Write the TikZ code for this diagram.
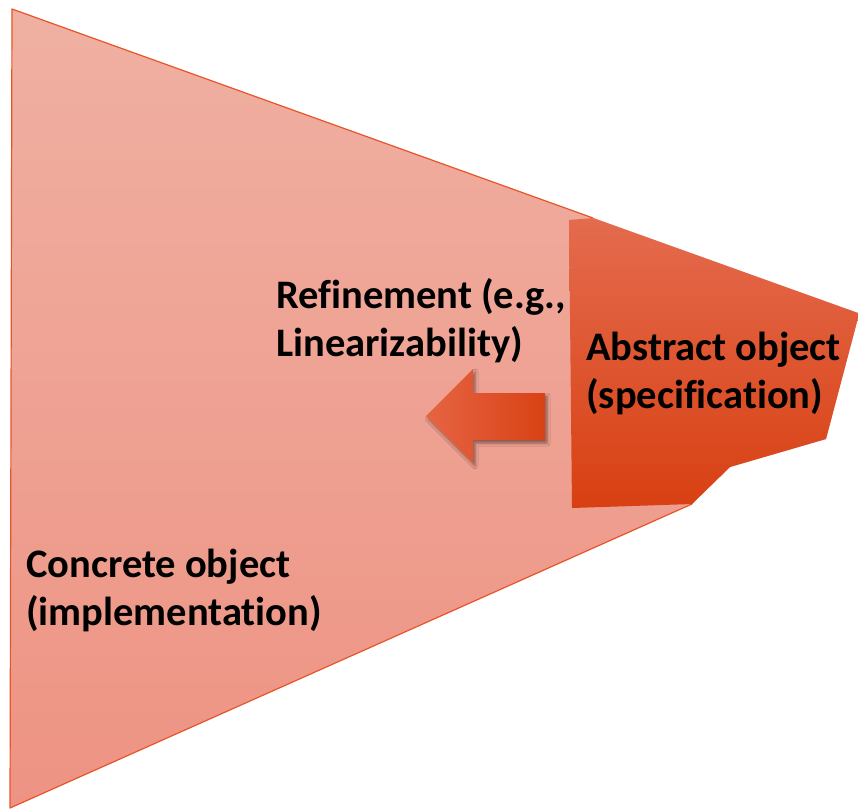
\documentclass[tikz,border=0pt]{standalone}
\usepackage{fontspec}
\setmainfont{Carlito}[Ligatures=NoCommon]
\usetikzlibrary{shadows.blur}
\definecolor{triTop}{RGB}{239,176,162}
\definecolor{triBot}{RGB}{238,147,131}
\definecolor{triEdge}{RGB}{232,84,42}
\definecolor{absTop}{RGB}{228,107,78}
\definecolor{absBot}{RGB}{216,64,18}
\definecolor{arrL}{RGB}{230,100,68}
\definecolor{arrR}{RGB}{216,66,20}
\tikzset{
  label/.style={font=\bfseries\fontsize{40.5}{48}\selectfont, text=black,
    align=left, inner sep=0pt, anchor=base west},
}
\begin{document}
\begin{tikzpicture}[x=1pt,y=-1pt]
  \useasboundingbox (0,0) rectangle (858,809);
  % concrete object: wide wedge whose tip is replaced by the abstract object
  \shade[top color=triTop, bottom color=triBot]
    (12,9) -- (858,313) -- (858,318) -- (826,439) -- (730,467)
    -- (692,504) -- (10,808) -- cycle;
  \draw[triEdge, line width=1.2pt, line join=round]
    (593,218) -- (12,9) -- (10,808) -- (692,504);
  % abstract object
  \shade[top color=absTop, bottom color=absBot]
    (569,220) -- (593,218) -- (858,313) -- (858,318) -- (826,439)
    -- (730,467) -- (692,504) -- (572,508) -- cycle;
  % refinement arrow pointing left
  \shade[left color=arrL, right color=arrR,
         blur shadow={shadow xshift=2pt, shadow yshift=-3pt, shadow blur radius=3pt, shadow opacity=45}]
    (545,393) -- (473,393) -- (473,369) -- (426,416) -- (473,463)
    -- (473,440) -- (545,440) -- cycle;
  \node[label] (refine) at (276,356) {Refinement (e.g.,\\Linearizability)};
  \node[label] (abstract) at (586,408) {Abstract object\\(specification)};
  \node[label] (concrete) at (26,625) {Concrete object\\(implementation)};
\end{tikzpicture}
\end{document}
